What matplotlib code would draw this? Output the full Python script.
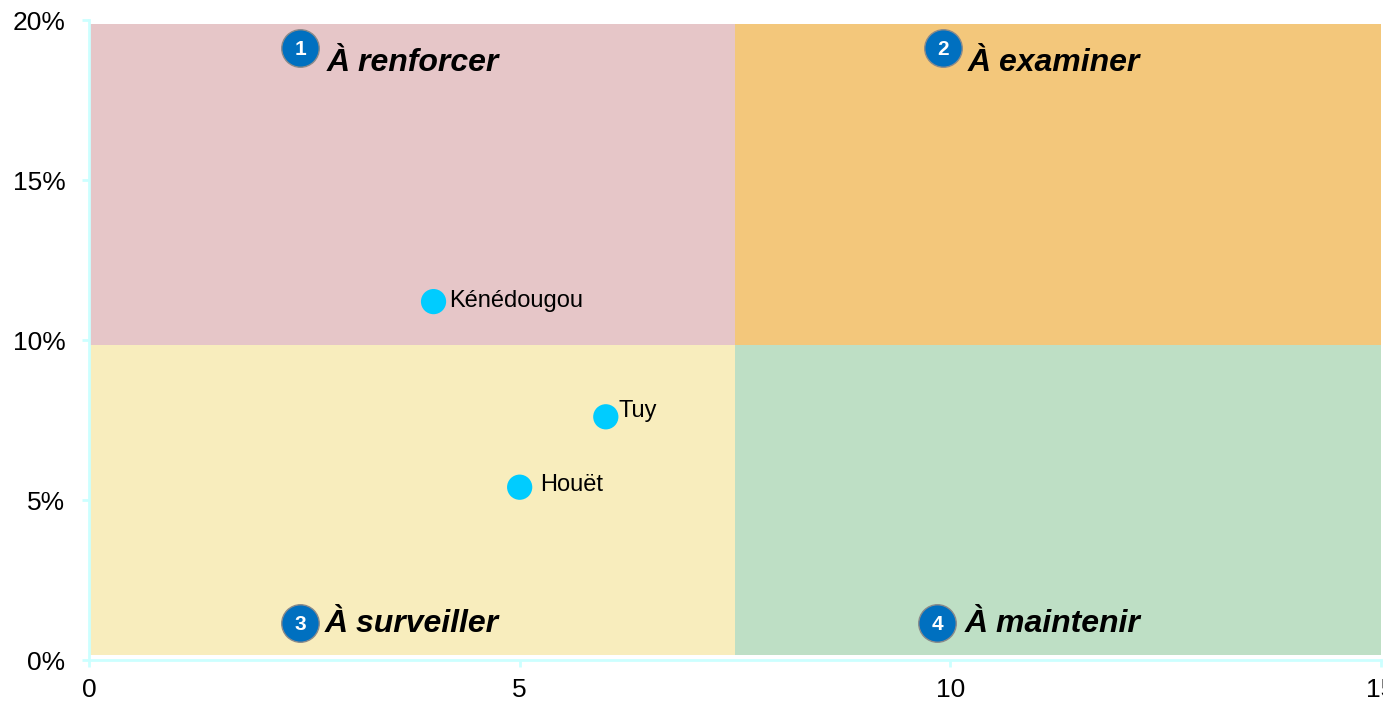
import matplotlib
matplotlib.use('Agg')
import matplotlib.pyplot as plt
from matplotlib.patches import Rectangle
from matplotlib.ticker import FuncFormatter

plt.rcParams['font.family'] = ['Liberation Sans', 'DejaVu Sans']

# ==================== DATA ====================
REGIONS = ['Kénédougou', 'Tuy', 'Houët']
X_VALUES = [4.0, 6.0, 5.0]
Y_VALUES = [11.2, 7.6, 5.4]   # in %

QUADRANT_NAMES = ['À renforcer', 'À examiner', 'À surveiller', 'À maintenir']
QUADRANT_NUMBERS = ['1', '2', '3', '4']

X_TICKS = [0, 5, 10, 15]
Y_TICKS = [0, 5, 10, 15, 20]

# quadrant limits
X_SPLIT = 7.5
Y_SPLIT = 9.85
Y_LOW = 0.16
Y_HIGH = 19.87
# ===============================================

SPINE_COLOR = '#ccffff'
POINT_COLOR = '#00ccff'
BADGE_COLOR = '#0070c0'

fig = plt.figure(figsize=(13.83, 7.02), dpi=100)
ax = fig.add_axes([89 / 1383, 42 / 702, 1292 / 1383, 640 / 702])

# background quadrants: (x0, x1, y0, y1, colour)
quadrants = [
    (0, X_SPLIT, Y_SPLIT, Y_HIGH, '#e6c6c8'),
    (X_SPLIT, 15, Y_SPLIT, Y_HIGH, '#f3c77b'),
    (0, X_SPLIT, Y_LOW, Y_SPLIT, '#f8edbd'),
    (X_SPLIT, 15, Y_LOW, Y_SPLIT, '#bedfc5'),
]
for x0, x1, y0, y1, col in quadrants:
    ax.add_patch(Rectangle((x0, y0), x1 - x0, y1 - y0, facecolor=col,
                           edgecolor='none', zorder=0))

# numbered badges and quadrant titles
badge_pos = [(2.45, 19.14), (9.915, 19.14), (2.45, 1.16), (9.845, 1.16)]
title_pos = [(2.76, 18.4), (10.2, 18.4), (2.74, 0.86), (10.17, 0.86)]
for num, name, (bx, by), (tx, ty) in zip(QUADRANT_NUMBERS, QUADRANT_NAMES,
                                         badge_pos, title_pos):
    ax.scatter(bx, by, s=730, color=BADGE_COLOR, edgecolors='#8a8a8a',
               linewidths=1.0, zorder=4, clip_on=False)
    ax.text(bx, by, num, color='white', fontsize=15, fontweight='bold',
            ha='center', va='center_baseline', zorder=5)
    ax.text(tx, ty, name, fontsize=23, fontweight='bold', style='italic',
            ha='left', va='baseline', zorder=5)

# regions
ax.scatter(X_VALUES, Y_VALUES, s=330, color=POINT_COLOR, edgecolors='none',
           zorder=3)
label_offsets = [(11, -4), (9, 0), (15, -2.5)]
for name, x, y, off in zip(REGIONS, X_VALUES, Y_VALUES, label_offsets):
    ax.annotate(name, (x, y), xytext=off, textcoords='offset points',
                fontsize=17, ha='left', va='baseline', zorder=5)

ax.set_xlim(0, 15)
ax.set_ylim(0, 20)
ax.set_xticks(X_TICKS)
ax.set_yticks(Y_TICKS)
ax.yaxis.set_major_formatter(FuncFormatter(lambda v, p: f'{v:.0f}%'))

for side in ['top', 'right']:
    ax.spines[side].set_visible(False)
for side in ['left', 'bottom']:
    ax.spines[side].set_color(SPINE_COLOR)
    ax.spines[side].set_linewidth(2)
    ax.spines[side].set_zorder(6)
ax.tick_params(axis='both', colors=SPINE_COLOR, width=2, length=5,
               labelsize=19, labelcolor='black')
ax.tick_params(axis='y', pad=12)
ax.tick_params(axis='x', pad=8)
ax.set_facecolor('white')

fig.savefig('out.png', dpi=100)
